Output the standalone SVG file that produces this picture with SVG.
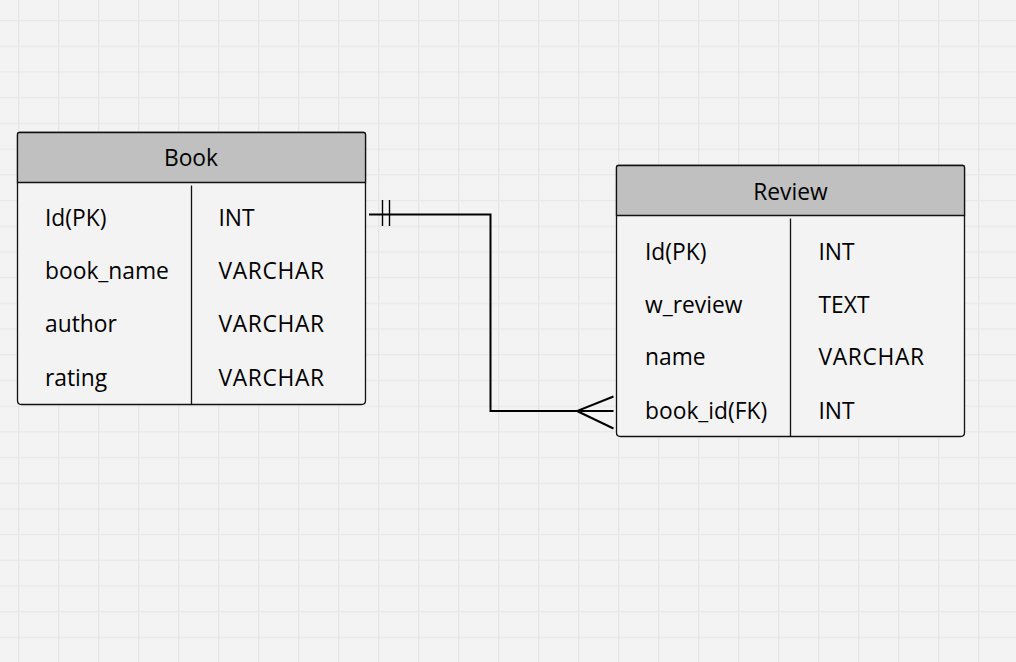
<svg xmlns="http://www.w3.org/2000/svg" width="1016" height="662" viewBox="0 0 1016 662">
  <defs>
    <pattern id="grid" patternUnits="userSpaceOnUse" x="18" y="20" width="40" height="25.7">
      <rect x="0" y="0" width="40" height="25.7" fill="#f3f3f3"/>
      <line x1="0.5" y1="0" x2="0.5" y2="25.7" stroke="#e6e6e6" stroke-width="1.5"/>
      <line x1="0" y1="0.5" x2="40" y2="0.5" stroke="#e8e8e8" stroke-width="1.5"/>
    </pattern>
  </defs>
  <style>
    .box { fill: #f3f3f3; stroke: #111; stroke-width: 1.3; }
    .hdr { fill: #c0c0c0; stroke: #111; stroke-width: 1.3; }
    .div { stroke: #111; stroke-width: 1.3; fill: none; }
    text { font-family: "Open Sans", "Noto Sans", "DejaVu Sans", sans-serif; font-size: 22.8px; fill: #000; }
    .title { text-anchor: middle; }
    .conn { fill: none; stroke: #000; stroke-width: 2; }
    .tick { fill: none; stroke: #000; stroke-width: 1.4; }
  </style>
  <rect x="0" y="0" width="1016" height="662" fill="url(#grid)"/>

  <g id="book">
    <path class="box" d="M17.5,134.5 Q17.5,132.5 19.5,132.5 L363.5,132.5 Q365.5,132.5 365.5,134.5 L365.5,400.5 Q365.5,404.5 361.5,404.5 L21.5,404.5 Q17.5,404.5 17.5,400.5 Z"/>
    <path class="hdr" d="M17.5,182.5 L17.5,134.5 Q17.5,132.5 19.5,132.5 L363.5,132.5 Q365.5,132.5 365.5,134.5 L365.5,182.5 Z"/>
    <line class="div" x1="191.5" y1="185.5" x2="191.5" y2="404.5"/>
    <text class="title" x="191" y="166">Book</text>
    <text x="45" y="226">Id(PK)</text>
    <text x="218.5" y="226">INT</text>
    <text x="45" y="279">book_name</text>
    <text x="218.5" y="279" textLength="105.5">VARCHAR</text>
    <text x="45" y="332">author</text>
    <text x="218.5" y="332" textLength="105.5">VARCHAR</text>
    <text x="45" y="386">rating</text>
    <text x="218.5" y="386" textLength="105.5">VARCHAR</text>
  </g>

  <g id="review">
    <path class="box" d="M616.5,167.5 Q616.5,165.5 618.5,165.5 L962.5,165.5 Q964.5,165.5 964.5,167.5 L964.5,432.5 Q964.5,436.5 960.5,436.5 L620.5,436.5 Q616.5,436.5 616.5,432.5 Z"/>
    <path class="hdr" d="M616.5,215.5 L616.5,167.5 Q616.5,165.5 618.5,165.5 L962.5,165.5 Q964.5,165.5 964.5,167.5 L964.5,215.5 Z"/>
    <line class="div" x1="790.5" y1="218.5" x2="790.5" y2="436.5"/>
    <text class="title" x="790.5" y="199.5">Review</text>
    <text x="645" y="260">Id(PK)</text>
    <text x="818.5" y="260">INT</text>
    <text x="645" y="313">w_review</text>
    <text x="818.5" y="313">TEXT</text>
    <text x="645" y="365">name</text>
    <text x="818.5" y="365" textLength="105.5">VARCHAR</text>
    <text x="645" y="419">book_id(FK)</text>
    <text x="818.5" y="419">INT</text>
  </g>

  <g id="connectors">
    <path class="conn" d="M369,214.5 L490.5,214.5 L490.5,411 L613.5,411"/>
    <line class="tick" x1="382.5" y1="200" x2="382.5" y2="226"/>
    <line class="tick" x1="389.5" y1="200" x2="389.5" y2="226"/>
    <path class="conn" d="M613.5,396.5 L577,411 L613.5,428.5"/>
  </g>
</svg>
